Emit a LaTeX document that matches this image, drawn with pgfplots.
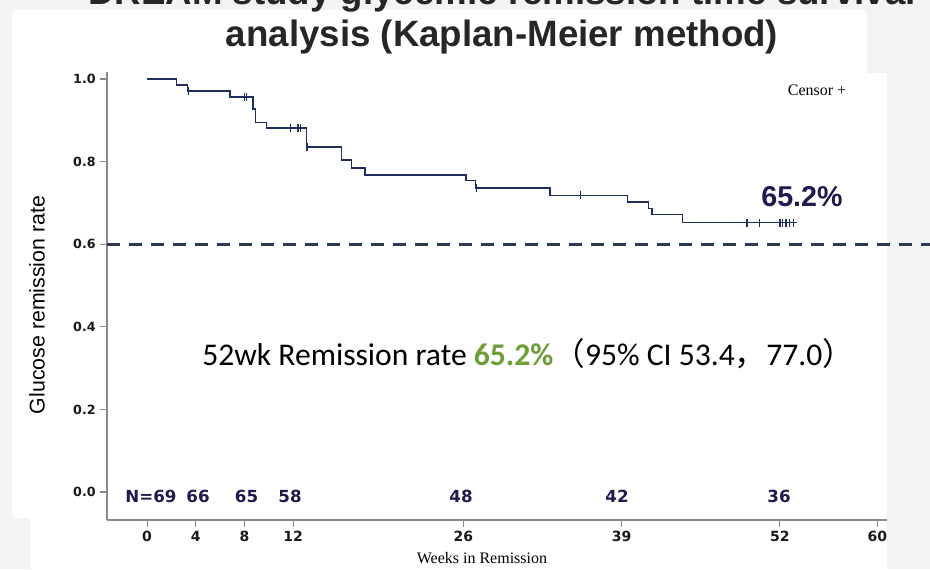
\documentclass[border=0pt]{standalone}
\usepackage{pgfplots}
\pgfplotsset{compat=1.18}
\usepackage{fontspec}
\setmainfont{Liberation Sans}
\newfontfamily\tickfont{DejaVu Sans}
\newfontfamily\timesfont{Liberation Serif}
\newfontfamily\calfont{Carlito}
\newfontfamily\cjk{Noto Sans CJK SC}

\definecolor{curve}{HTML}{1F2D5E}
\definecolor{dashc}{HTML}{2D3A50}
\definecolor{axisc}{HTML}{8A8A8A}
\definecolor{numc}{HTML}{24184F}
\definecolor{greenc}{HTML}{6F9E3A}
\definecolor{bggray}{HTML}{F3F3F3}

\begin{document}
\begin{tikzpicture}
% screenshot background (1 unit = 1 px of the reference)
\begin{scope}[x=0.75pt,y=-0.75pt,shift={(-80.25pt,390pt)}]
  \fill[bggray] (0,0) rectangle (930,569);
  \fill[white, rounded corners=4pt] (12,10) rectangle (867,518);
  \fill[white] (30,73) rectangle (887,569);
\end{scope}

\begin{axis}[
  at={(0,0)}, anchor=south west,
  scale only axis, width=585pt, height=336pt,
  xmin=-3.29, xmax=60.8, ymin=-0.0678, ymax=1.017,
  axis x line*=bottom, axis y line*=left,
  axis line style={axisc, line width=0.9pt},
  tick style={axisc, line width=0.8pt},
  tick align=outside, major tick length=5pt,
  xtick={0,4,8,12,26,39,52,60},
  ytick={0,0.2,0.4,0.6,0.8,1.0},
  /pgf/number format/assume math mode=true,
  yticklabel={\pgfmathprintnumber[fixed,fixed zerofill,precision=1]{\tick}},
  x tick label style={font=\tickfont\bfseries\fontsize{10.5}{12}\selectfont, text=black!90},
  y tick label style={font=\tickfont\bfseries\fontsize{9.5}{11}\selectfont, text=black!90},
  clip=false,
]
% reference line at 0.6
\addplot[dashc, line width=2.3pt, dash pattern=on 10pt off 6.5pt] coordinates {(-3.29,0.6) (64.3,0.6)};

% Kaplan-Meier curve
\addplot[const plot, curve, line width=1.05pt] table {
x y
0 1.000
2.4 0.986
3.3 0.971
6.8 0.956
8.7 0.927
8.9 0.895
9.8 0.881
13.1 0.835
16.0 0.804
16.8 0.785
17.9 0.768
26.2 0.754
27.0 0.736
33.1 0.718
39.5 0.702
41.2 0.687
41.5 0.672
44.0 0.652
53.4 0.652
};

% censored observations
\addplot[only marks, mark=|, mark size=3pt, curve, mark options={line width=0.9pt}] table {
x y
3.4 0.971
8.0 0.956
8.15 0.956
11.8 0.881
12.4 0.881
12.6 0.881
13.15 0.835
27.1 0.736
35.6 0.718
49.3 0.652
50.3 0.652
52.0 0.652
52.2 0.652
52.5 0.652
52.8 0.652
53.1 0.652
};
\end{axis}

\begin{scope}[x=0.75pt,y=-0.75pt,shift={(-80.25pt,390pt)}]
  % titles
  \node[anchor=base, inner sep=0pt, text=black!85, font=\bfseries\fontsize{27.5}{30}\selectfont] at (502,4.5) {DREAM study glycemic remission time survival};
  \node[anchor=base, inner sep=0pt, text=black!85, font=\bfseries\fontsize{27.5}{30}\selectfont] at (502,47) {analysis (Kaplan-Meier method)};
  % axis labels
  \node[rotate=90, inner sep=0pt, font=\fontsize{16}{18}\selectfont] at (37,305) {Glucose remission rate};
  \node[anchor=base, inner sep=0pt, font=\timesfont\fontsize{12}{14}\selectfont] at (482,563) {Weeks in Remission};
  % legend note
  \node[inner sep=0pt, font=\timesfont\fontsize{12}{14}\selectfont] at (817,90) {Censor +};
  % end value
  \node[inner sep=0pt, text=numc, font=\bfseries\fontsize{21.5}{24}\selectfont] at (802,197) {65.2\%};
  % numbers at risk
  \begin{scope}[every node/.style={inner sep=0pt, text=numc, font=\tickfont\bfseries\fontsize{12.5}{14}\selectfont}]
    \node at (151,496) {N=69};
    \node at (198,496) {66};
    \node at (246.5,496) {65};
    \node at (290,496) {58};
    \node at (461,496) {48};
    \node at (617,496) {42};
    \node at (779,496) {36};
  \end{scope}
  % summary
  \node[anchor=base west, inner sep=0pt, font=\calfont\fontsize{23.7}{26}\selectfont] at (202,365)
    {52wk Remission rate \textcolor{greenc}{\bfseries 65.2\%}{\cjk （}95\% CI 53.4{\cjk ，}77.0{\cjk ）}};
  \pgfresetboundingbox
  \useasboundingbox (0,0) rectangle (930,569);
\end{scope}
\end{tikzpicture}
\end{document}
